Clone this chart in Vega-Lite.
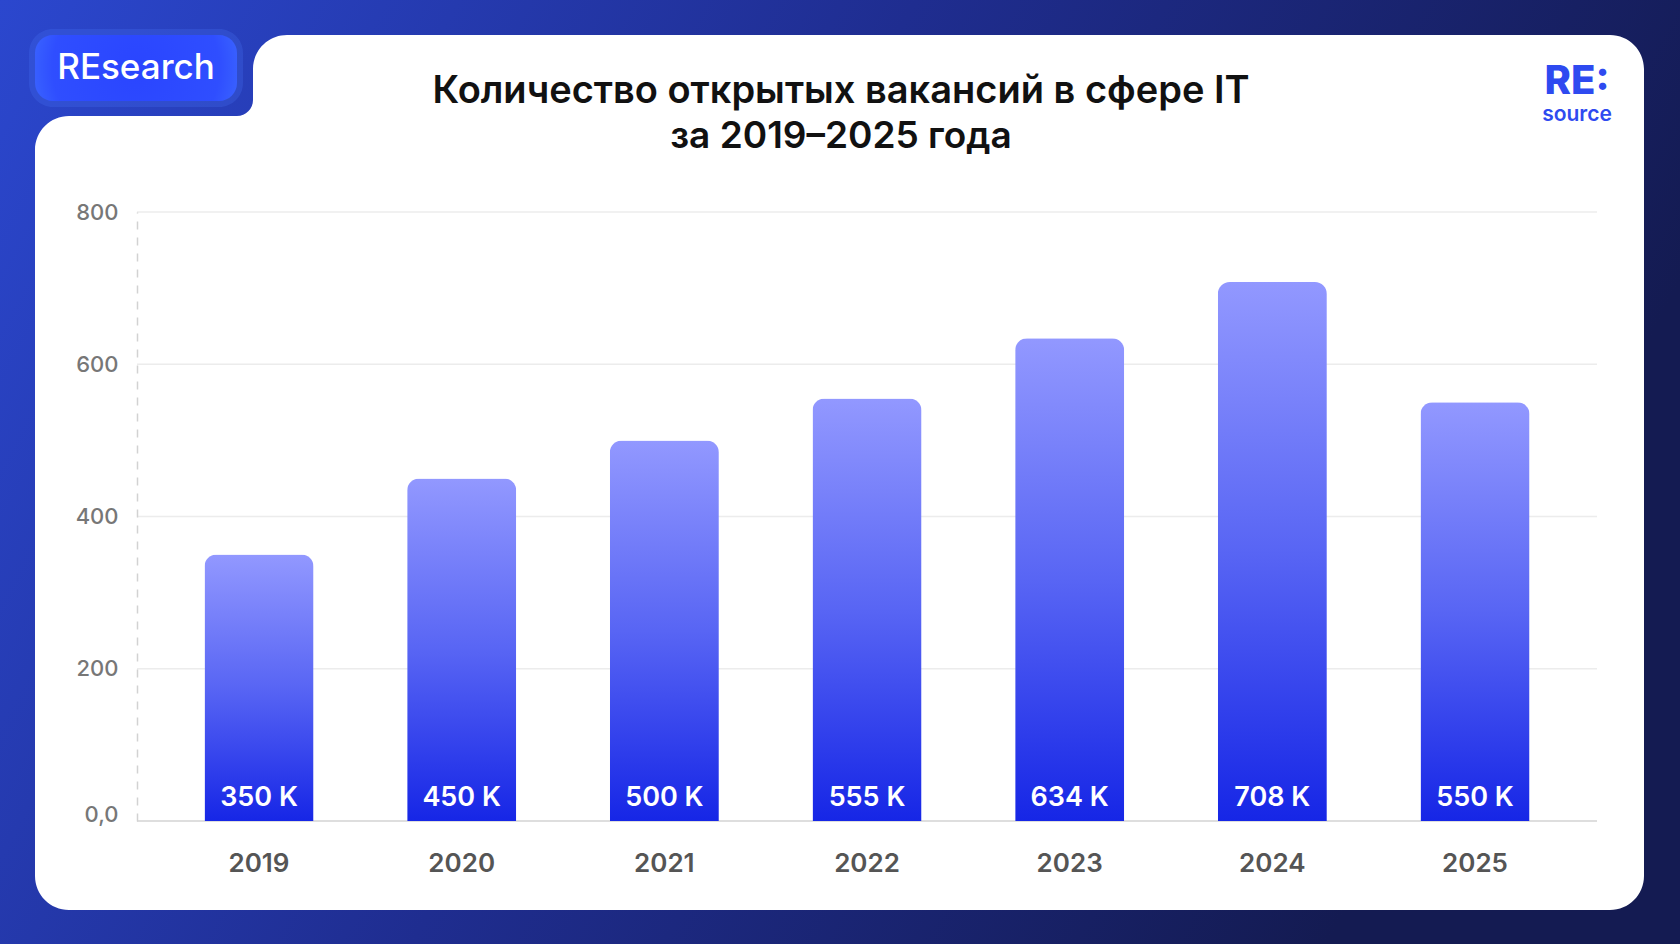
{
  "$schema": "https://vega.github.io/schema/vega-lite/v6.json",
  "width": 1460,
  "height": 609,
  "autosize": {"type": "none"},
  "padding": {"left": 137, "top": 212, "right": 83, "bottom": 123},
  "background": "#1f2c8c",
  "config": {"font": "Inter", "view": {"stroke": null}},
  "data": {
    "values": [
      {"year": "2019", "value": 350, "label": "350 K"},
      {"year": "2020", "value": 450, "label": "450 K"},
      {"year": "2021", "value": 500, "label": "500 K"},
      {"year": "2022", "value": 555, "label": "555 K"},
      {"year": "2023", "value": 634, "label": "634 K"},
      {"year": "2024", "value": 708, "label": "708 K"},
      {"year": "2025", "value": 550, "label": "550 K"}
    ]
  },
  "layer": [
    {
      "data": {"values": [{}]},
      "mark": {
        "type": "rect", "x": -137, "x2": 1543, "y": -212, "y2": 732,
        "fill": {"gradient": "linear", "x1": 0, "y1": 0, "x2": 1, "y2": 0.3,
          "stops": [{"offset": 0, "color": "#2b47ce"}, {"offset": 0.5, "color": "#1f2d90"}, {"offset": 1, "color": "#141b52"}]}
      },
      "encoding": {}
    },
    {
      "data": {"values": [{}]},
      "mark": {
        "type": "point",
        "shape": "M -68 -96 H 100 A 16 16 0 0 0 116 -112 V -143 A 34 34 0 0 1 150 -177 H 1473 A 34 34 0 0 1 1507 -143 V 664 A 34 34 0 0 1 1473 698 H -68 A 34 34 0 0 1 -102 664 V -62 A 34 34 0 0 1 -68 -96 Z",
        "size": 4, "filled": true, "fill": "#ffffff", "opacity": 1, "strokeWidth": 0
      },
      "encoding": {"x": {"value": 0}, "y": {"value": 0}}
    },
    {
      "data": {"values": [{}]},
      "mark": {"type": "rect", "x": -108, "x2": 106, "y": -183, "y2": -105, "cornerRadius": 24, "fill": "#4d7cff", "opacity": 0.22},
      "encoding": {}
    },
    {
      "data": {"values": [{}]},
      "mark": {
        "type": "rect", "x": -102, "x2": 100, "y": -177, "y2": -111, "cornerRadius": 18,
        "fill": {"gradient": "radial", "x1": 0.5, "y1": 0.5, "r1": 0, "x2": 0.5, "y2": 0.5, "r2": 0.75,
          "stops": [{"offset": 0, "color": "#2a45ff"}, {"offset": 0.55, "color": "#2f4eff"}, {"offset": 1, "color": "#4f8cff"}]}
      },
      "encoding": {}
    },
    {
      "data": {"values": [{}]},
      "mark": {"type": "text", "text": "REsearch", "x": -1, "y": -144, "align": "center", "baseline": "middle", "fontSize": 35, "fontWeight": 500, "color": "#ffffff"},
      "encoding": {}
    },
    {
      "data": {"values": [{}]},
      "mark": {"type": "text", "text": "Количество открытых вакансий в сфере IT", "x": 704, "y": -120, "align": "center", "baseline": "middle", "fontSize": 38, "fontWeight": 600, "color": "#111111"},
      "encoding": {}
    },
    {
      "data": {"values": [{}]},
      "mark": {"type": "text", "text": "за 2019–2025 года", "x": 704, "y": -75, "align": "center", "baseline": "middle", "fontSize": 37, "fontWeight": 600, "color": "#111111"},
      "encoding": {}
    },
    {
      "data": {"values": [{}]},
      "mark": {"type": "text", "text": "RE:", "x": 1440, "y": -130, "align": "center", "baseline": "middle", "fontSize": 40, "fontWeight": 800, "color": "#2e4af0"},
      "encoding": {}
    },
    {
      "data": {"values": [{}]},
      "mark": {"type": "text", "text": "source", "x": 1440, "y": -97, "align": "center", "baseline": "middle", "fontSize": 21, "fontWeight": 600, "color": "#2e4af0"},
      "encoding": {}
    },
    {
      "data": {"values": [{"v": 200}, {"v": 400}, {"v": 600}, {"v": 800}]},
      "mark": {"type": "rule", "color": "#ececec", "strokeWidth": 1.5},
      "encoding": {"y": {"field": "v", "type": "quantitative"}}
    },
    {
      "mark": {"type": "rule", "color": "#dedede", "strokeWidth": 2},
      "encoding": {"y": {"datum": 0}}
    },
    {
      "mark": {
        "type": "bar", "cornerRadiusTopLeft": 12, "cornerRadiusTopRight": 12,
        "fill": {"gradient": "linear", "x1": 0, "y1": 0, "x2": 0, "y2": 1,
          "stops": [{"offset": 0, "color": "#9298ff"}, {"offset": 0.5, "color": "#5865f4"}, {"offset": 1, "color": "#1626e6"}]}
      },
      "encoding": {
        "x": {
          "field": "year", "type": "ordinal",
          "scale": {"paddingInner": 0.462, "paddingOuter": 0.333},
          "axis": {"title": null, "labelAngle": 0, "ticks": false, "grid": false, "domain": false, "zindex": 1,
            "labelFontSize": 26, "labelFontWeight": 600, "labelColor": "#555555", "labelPadding": 42, "labelBaseline": "middle"}
        },
        "y": {
          "field": "value", "type": "quantitative",
          "scale": {"domain": [0, 800], "nice": false},
          "axis": {"title": null, "values": [0, 200, 400, 600, 800], "labelExpr": "datum.value == 0 ? '0,0' : datum.label",
            "ticks": false, "grid": false, "zindex": 1, "domainDash": [8, 8], "domainColor": "#d2d2d2", "domainWidth": 1.5,
            "labelFontSize": 22, "labelColor": "#777777", "labelFontWeight": 500, "labelPadding": 19,
            "labelOffset": {"condition": {"test": "datum.value == 0", "value": -7}, "value": 0}}
        }
      }
    },
    {
      "mark": {"type": "text", "baseline": "middle", "align": "center", "dy": -23, "fontSize": 27, "fontWeight": 600, "color": "#ffffff"},
      "encoding": {
        "x": {"field": "year", "type": "ordinal"},
        "y": {"datum": 0},
        "text": {"field": "label"}
      }
    }
  ]
}
